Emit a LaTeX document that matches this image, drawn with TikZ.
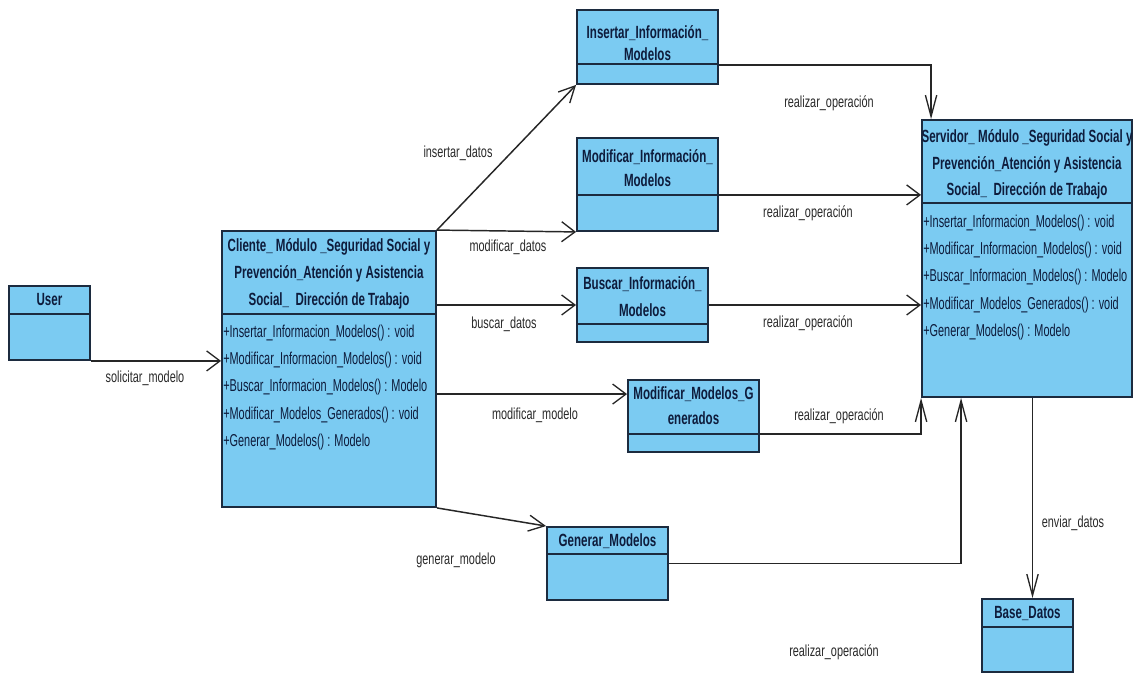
\documentclass[tikz,border=0pt]{standalone}
\usepackage{fontspec}
\setmainfont{Liberation Sans}
\newfontfamily\narrow[FakeStretch=0.68]{Liberation Sans}
\newfontfamily\narrowhdr[FakeStretch=0.655]{Liberation Sans}
\newfontfamily\narrowmeth[FakeStretch=0.635]{Liberation Sans}
\usetikzlibrary{arrows.meta,calc,fit}
\definecolor{boxfill}{HTML}{7BCBF2}
\definecolor{boxline}{HTML}{1C2B3F}
\definecolor{hdrtext}{HTML}{0E1C3C}
\definecolor{lbltext}{HTML}{2A2A2A}
\tikzset{
  cls/.style={draw=boxline, fill=boxfill, line width=1.4pt, inner sep=0pt, rectangle},
  divline/.style={draw=boxline, line width=1.2pt},
  hdr/.style={font=\narrowhdr\bfseries\fontsize{13.25}{20.25}\selectfont, text=hdrtext, align=center, inner sep=0pt},
  meth/.style={font=\narrowmeth\fontsize{12.9}{20.5}\selectfont, text=hdrtext, align=left, anchor=west, inner sep=0pt},
  lbl/.style={font=\narrow\fontsize{12}{14}\selectfont, text=lbltext, inner sep=0pt},
  conn/.style={draw=black!85, line width=1.1pt},
  assoch/.style={conn, -{Straight Barb[length=10pt,width=15pt,line width=1pt]}},
  assocv/.style={conn, -{Straight Barb[length=16pt,width=8.5pt,line width=1pt]}},
  assocd/.style={conn, -{Straight Barb[length=12pt,width=12pt,line width=1pt]}},
}
\begin{document}
\begin{tikzpicture}[x=0.75pt,y=-0.75pt]
\useasboundingbox (0,0) rectangle (1133,673);
\fill[white] (0,0) rectangle (1133,673);

% class boxes
\node[cls, fit={(9,286)(90,360)}] (user) {};
\node[cls, fit={(222,231)(436,507)}] (cli) {};
\node[cls, fit={(577,10)(718,84)}] (ins) {};
\node[cls, fit={(577,138)(718,231)}] (modi) {};
\node[cls, fit={(577,268)(708,342)}] (bus) {};
\node[cls, fit={(628,380)(759,452)}] (mmg) {};
\node[cls, fit={(547,527)(668,600)}] (gen) {};
\node[cls, fit={(922,120)(1132,397)}] (srv) {};
\node[cls, fit={(982,599)(1073,672)}] (base) {};

% compartment dividers
\draw[divline] (user.west |- 0,314) -- (user.east |- 0,314);
\draw[divline] (cli.west |- 0,314) -- (cli.east |- 0,314);
\draw[divline] (ins.west |- 0,64) -- (ins.east |- 0,64);
\draw[divline] (modi.west |- 0,195) -- (modi.east |- 0,195);
\draw[divline] (bus.west |- 0,324) -- (bus.east |- 0,324);
\draw[divline] (mmg.west |- 0,434) -- (mmg.east |- 0,434);
\draw[divline] (gen.west |- 0,554) -- (gen.east |- 0,554);
\draw[divline] (srv.west |- 0,203) -- (srv.east |- 0,203);
\draw[divline] (base.west |- 0,627) -- (base.east |- 0,627);

% headers
\node[hdr] (userh) at (49.5,300) {User};
\node[hdr] (clih) at (329,274) {Cliente\_ Módulo \_Seguridad Social y\\Prevención\_Atención y Asistencia\\Social\_ \ Dirección de Trabajo};
\node[hdr, font=\narrowhdr\bfseries\fontsize{13.25}{16.5}\selectfont] (insh) at (647.5,43) {Insertar\_Información\_\\Modelos};
\node[hdr, font=\narrowhdr\bfseries\fontsize{13.25}{18}\selectfont] (modih) at (647.5,168) {Modificar\_Información\_\\Modelos};
\node[hdr] (bush) at (642.5,296.5) {Buscar\_Información\_\\Modelos};
\node[hdr, font=\narrowhdr\bfseries\fontsize{13.25}{18.75}\selectfont] (mmgh) at (693.5,405.5) {Modificar\_Modelos\_G\\enerados};
\node[hdr] (genh) at (607.5,541) {Generar\_Modelos};
\node[hdr, font=\narrowhdr\bfseries\fontsize{13.25}{19.9}\selectfont] (srvh) at (1027,164.5) {Servidor\_ Módulo \_Seguridad Social y\\Prevención\_Atención y Asistencia\\Social\_ \ Dirección de Trabajo};
\node[hdr] (baseh) at (1027.5,614) {Base\_Datos};

% operations
\node[meth] (clim) at (223,387.5) {+Insertar\_Informacion\_Modelos() : void\\+Modificar\_Informacion\_Modelos() : void\\+Buscar\_Informacion\_Modelos() : Modelo\\+Modificar\_Modelos\_Generados() : void\\+Generar\_Modelos() : Modelo};
\node[meth] (srvm) at (923,277.5) {+Insertar\_Informacion\_Modelos() : void\\+Modificar\_Informacion\_Modelos() : void\\+Buscar\_Informacion\_Modelos() : Modelo\\+Modificar\_Modelos\_Generados() : void\\+Generar\_Modelos() : Modelo};

% connectors
\draw[assoch] (user.south east) -- (user.south east -| cli.west);
\draw[assocd] (cli.north east) -- (ins.south west);
\draw[assoch] (cli.north east) -- (modi.south west);
\draw[assoch] (bus.west -| cli.east) -- (bus.west);
\coordinate (mmgin) at ($(mmg.north west)+(0,15)$);
\draw[assoch] (mmgin -| cli.east) -- (mmgin);
\draw[assocd] (cli.south east) -- (gen.north west);

\coordinate (insout) at ($(ins.south east)+(0,-20)$);
\coordinate (srvtop) at ($(srv.north west)+(10,0)$);
\draw[assocv] (insout) -| (srvtop);
\coordinate (modiout) at ($(modi.south east)+(0,-37)$);
\draw[assoch] (modiout) -- (modiout -| srv.west);
\draw[assoch] (bus.east) -- (bus.east -| srv.west);
\coordinate (mmgout) at ($(mmg.south east)+(0,-19)$);
\draw[assocv] (mmgout) -| (srv.south west);
\coordinate (srvbot) at ($(srv.south west)+(40,0)$);
\draw[assocv] (gen.east) -| (srvbot);
\coordinate (basetop) at ($(base.north)+(5,0)$);
\draw[assocv] (basetop |- srv.south) -- (basetop);

% labels
\node[lbl] (l1) at (145,378) {solicitar\_modelo};
\node[lbl] (l2) at (458,153) {insertar\_datos};
\node[lbl] (l3) at (508,247) {modificar\_datos};
\node[lbl] (l4) at (504,324) {buscar\_datos};
\node[lbl] (l5) at (535,415) {modificar\_modelo};
\node[lbl] (l6) at (456,560) {generar\_modelo};
\node[lbl] (l7) at (829,103) {realizar\_operación};
\node[lbl] (l8) at (808,213) {realizar\_operación};
\node[lbl] (l9) at (808,323) {realizar\_operación};
\node[lbl] (l10) at (839,416) {realizar\_operación};
\node[lbl] (l11) at (1073,523) {enviar\_datos};
\node[lbl] (l12) at (834,652) {realizar\_operación};
\end{tikzpicture}
\end{document}
